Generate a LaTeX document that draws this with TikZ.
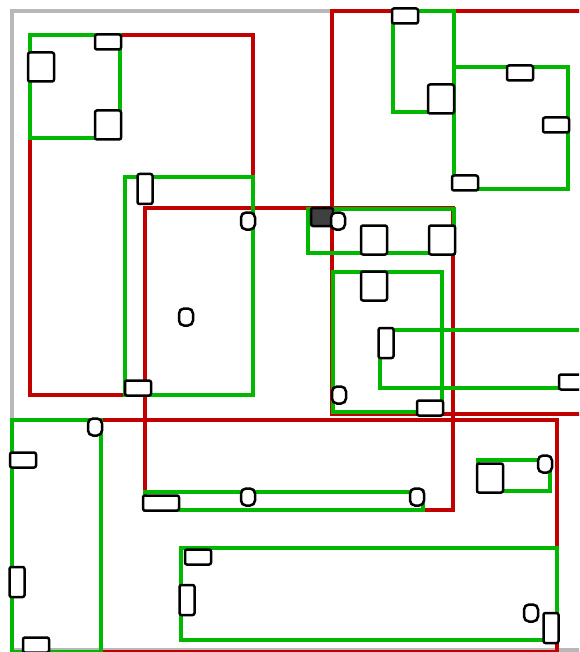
\documentclass[tikz,border=0pt]{standalone}
\usetikzlibrary{positioning}
\definecolor{mred}{rgb}{0.76, 0, 0}
\definecolor{mgreen}{rgb}{0, 0.72, 0}
\definecolor{mgray}{rgb}{0.72, 0.72, 0.72}
\tikzset{room/.style = {line width = 3.4pt}}
\tikzset{pin/.style = {draw, fill = white, line width = 2.5pt, rounded corners = 2pt, inner sep = 0}}
\tikzset{hpin/.style = {pin, minimum width = 26pt, minimum height = 15pt}}
\tikzset{vpin/.style = {pin, minimum width = 15pt, minimum height = 30pt}}
\tikzset{sqpin/.style = {pin, minimum width = 26pt, minimum height = 29pt}}
\tikzset{dotpin/.style = {pin, rounded corners = 5pt, minimum width = 14pt, minimum height = 17pt}}

\begin{document}
\begin{tikzpicture}[x=1pt, y=-1pt]
    \useasboundingbox (0,0) rectangle (579,652);
    \clip (0,0) rectangle (579,652);

    % outline
    \draw[mgray, room] (12,11) rectangle (592,650);

    % red blocks
    \draw[mred, room] (30,35) rectangle (253,395);
    \draw[mred, room] (332,11) rectangle (592,414);
    \draw[mred, room] (145,208) rectangle (453,510);
    \draw[mred, room] (101,420) rectangle (557,652);

    % green blocks
    \draw[mgreen, room] (30,35) rectangle (120,138);
    \draw[mgreen, room] (125,177) rectangle (253,395);
    \draw[mgreen, room] (393,11) rectangle (454,112);
    \draw[mgreen, room] (454,67) rectangle (568,189);
    \draw[mgreen, room] (308,209) rectangle (454,253);
    \draw[mgreen, room] (333,272) rectangle (442,412);
    \draw[mgreen, room] (380,330) rectangle (592,388);
    \draw[mgreen, room] (12,420) rectangle (101,652);
    \draw[mgreen, room] (145,492) rectangle (423,510);
    \draw[mgreen, room] (478,460) rectangle (550,491);
    \draw[mgreen, room] (181,548) rectangle (557,640);

    % pins
    \node[hpin] (p1) at (108,42) {};
    \node[sqpin] (p2) at (41,67) {};
    \node[sqpin] (p3) at (108,125) {};
    \node[vpin] (p4) at (145,189) {};
    \node[dotpin] (p5) at (248,221) {};
    \node[dotpin] (p6) at (186,317) {};
    \node[hpin] (p7) at (138,388) {};
    \node[hpin] (p8) at (405,16) {};
    \node[sqpin] (p9) at (441,99) {};
    \node[hpin] (p10) at (520,73) {};
    \node[hpin] (p11) at (556,125) {};
    \node[hpin] (p12) at (465,183) {};
    \node[pin, fill = black!75, minimum width = 22pt, minimum height = 18pt] (p13) at (322,217) {};
    \node[dotpin] (p14) at (338,221) {};
    \node[sqpin] (p15) at (374,240) {};
    \node[sqpin] (p16) at (442,240) {};
    \node[sqpin] (p17) at (374,286) {};
    \node[vpin] (p18) at (386,343) {};
    \node[dotpin] (p19) at (339,395) {};
    \node[hpin] (p20) at (430,408) {};
    \node[hpin] (p21) at (572,382) {};
    \node[dotpin] (p22) at (95,427) {};
    \node[hpin] (p23) at (23,460) {};
    \node[vpin] (p24) at (17,582) {};
    \node[hpin] (p25) at (36,645) {};
    \node[hpin, minimum width = 36pt] (p26) at (161,503) {};
    \node[dotpin] (p27) at (248,497) {};
    \node[dotpin] (p28) at (417,497) {};
    \node[hpin] (p29) at (198,557) {};
    \node[vpin] (p30) at (187,600) {};
    \node[sqpin] (p31) at (490,478) {};
    \node[dotpin] (p32) at (545,464) {};
    \node[dotpin] (p33) at (531,613) {};
    \node[vpin] (p34) at (551,628) {};
\end{tikzpicture}
\end{document}
